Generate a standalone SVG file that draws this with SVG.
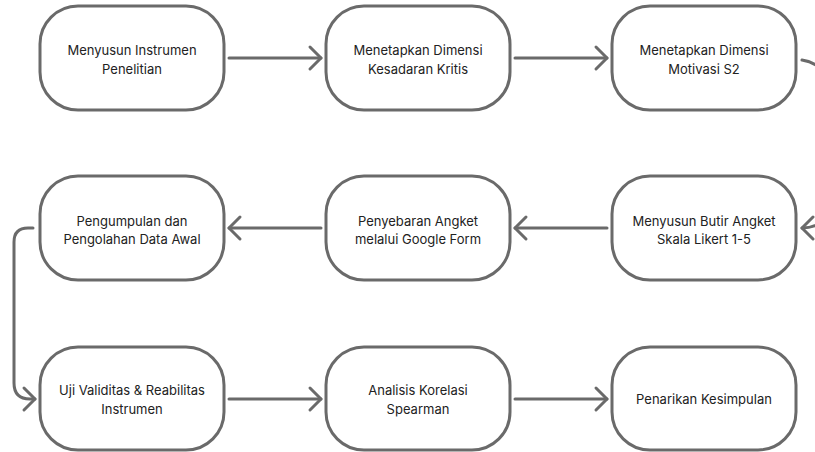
<svg xmlns="http://www.w3.org/2000/svg" width="815" height="452" viewBox="0 0 815 452">
<style>
.node rect{fill:#ffffff;stroke:#6a6a6a;stroke-width:3}
.node text{font-family:Inter,"Liberation Sans",sans-serif;font-size:13px;fill:#222222;text-anchor:middle}
.conn path{fill:none;stroke:#6a6a6a;stroke-width:3;stroke-linecap:round;stroke-linejoin:round}
</style>
<defs>
<marker id="arr" markerUnits="userSpaceOnUse" viewBox="-14 -14 18 28" refX="0" refY="0" markerWidth="18" markerHeight="28" orient="auto">
<path d="M -11 -11 L 0 0 L -11 11" fill="none" stroke="#6a6a6a" stroke-width="3" stroke-linecap="round" stroke-linejoin="round"/>
</marker>
</defs>
<rect width="815" height="452" fill="#ffffff"/>
<g class="conn">
<path d="M 229 58 L 321 58" marker-end="url(#arr)"/>
<path d="M 515 58 L 607 58" marker-end="url(#arr)"/>
<path d="M 802 60 C 822 63 832 80 832 100 L 832 190 C 832 215 822 228 802 228" marker-end="url(#arr)"/>
<path d="M 607 228 L 515 228" marker-end="url(#arr)"/>
<path d="M 321 228 L 229 228" marker-end="url(#arr)"/>
<path d="M 33 228 L 28 228 Q 14 228 14 242 L 14 383 Q 14 399 30 399 L 35 399" marker-end="url(#arr)"/>
<path d="M 229 399 L 321 399" marker-end="url(#arr)"/>
<path d="M 515 399 L 607 399" marker-end="url(#arr)"/>
</g>
<g id="n1" class="node"><rect x="40" y="6" width="184" height="104" rx="38"/><text x="132" y="55">Menyusun Instrumen</text><text x="132" y="73.5">Penelitian</text></g>
<g id="n2" class="node"><rect x="326" y="6" width="184" height="104" rx="38"/><text x="418" y="55">Menetapkan Dimensi</text><text x="418" y="73.5">Kesadaran Kritis</text></g>
<g id="n3" class="node"><rect x="612" y="6" width="184" height="104" rx="38"/><text x="704" y="55">Menetapkan Dimensi</text><text x="704" y="73.5">Motivasi S2</text></g>
<g id="n4" class="node"><rect x="40" y="176" width="184" height="104" rx="38"/><text x="132" y="225.5">Pengumpulan dan</text><text x="132" y="244">Pengolahan Data Awal</text></g>
<g id="n5" class="node"><rect x="326" y="176" width="184" height="104" rx="38"/><text x="418" y="225.5">Penyebaran Angket</text><text x="418" y="244">melalui Google Form</text></g>
<g id="n6" class="node"><rect x="612" y="176" width="184" height="104" rx="38"/><text x="704" y="225.5">Menyusun Butir Angket</text><text x="704" y="244">Skala Likert 1-5</text></g>
<g id="n7" class="node"><rect x="40" y="347" width="184" height="103" rx="38"/><text x="132" y="395">Uji Validitas &amp; Reabilitas</text><text x="132" y="413.5">Instrumen</text></g>
<g id="n8" class="node"><rect x="326" y="347" width="184" height="103" rx="38"/><text x="418" y="395">Analisis Korelasi</text><text x="418" y="413.5">Spearman</text></g>
<g id="n9" class="node"><rect x="612" y="347" width="184" height="103" rx="38"/><text x="704" y="404">Penarikan Kesimpulan</text></g>
</svg>
